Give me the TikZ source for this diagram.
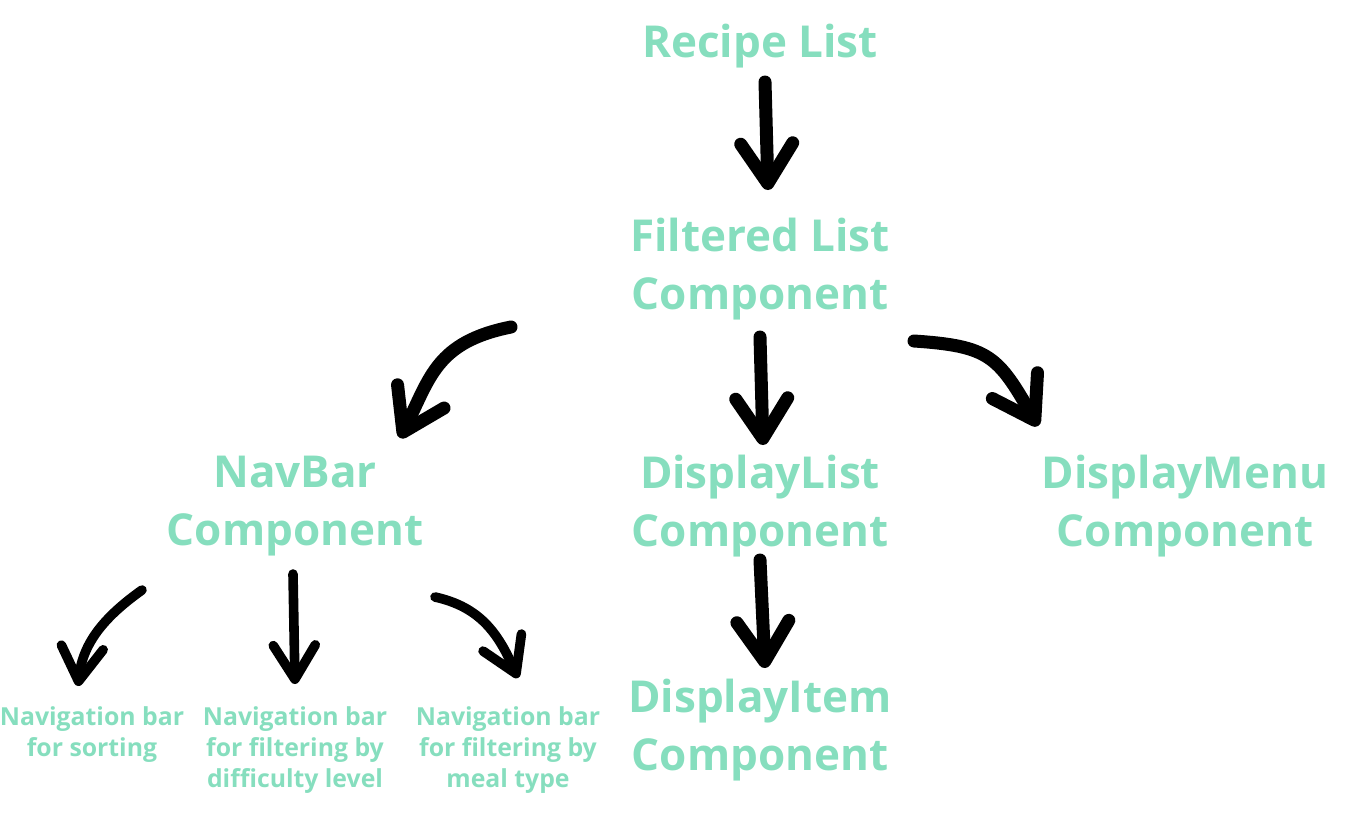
\documentclass[tikz,border=0pt]{standalone}
\usepackage{fontspec}
\setmainfont{Open Sans}
\usetikzlibrary{arrows.meta}
\definecolor{mint}{RGB}{134,222,190}

\begin{document}
\begin{tikzpicture}[x=0.5pt, y=-0.5pt,
  big/.style={text=mint, font=\bfseries\fontsize{22}{29}\selectfont, align=center, inner sep=0pt},
  small/.style={text=mint, font=\bfseries\fontsize{12.4}{15.5}\selectfont, align=center, inner sep=0pt},
  brush/.style={line width=6.5pt, line cap=round, -{Straight Barb[length=20pt, width=26pt, round]}},
  thinbrush/.style={brush, line width=4.8pt, -{Straight Barb[length=17pt, width=21pt, round]}}]
  \useasboundingbox (0,0) rectangle (1354,836);

  % components
  \node[big] (recipe) at (760,46) {Recipe List};
  \node[big] (filtered) at (760,269) {Filtered List\\Component};
  \node[big] (navbar) at (295,506) {NavBar\\Component};
  \node[big] (displist) at (760,506) {DisplayList\\Component};
  \node[big] (dispmenu) at (1185,506) {DisplayMenu\\Component};
  \node[big] (dispitem) at (760,730) {DisplayItem\\Component};

  % navigation bars
  \node[small] (sort) at (92,735) {Navigation bar\\for sorting};
  \node[small] (diff) at (295,750) {Navigation bar\\for filtering by\\difficulty level};
  \node[small] (meal) at (508,750) {Navigation bar\\for filtering by\\meal type};

  % arrows
  \draw[brush] ([shift={(5,36)}]recipe.center) -- ([shift={(8,-79)}]filtered.center);
  \draw[brush] ([shift={(-249,58)}]filtered.center) .. controls +(-75,15) and +(30,-60) .. ([shift={(105,-68)}]navbar.center);
  \draw[brush] ([shift={(0,68)}]filtered.center) -- ([shift={(3,-61)}]displist.center);
  \draw[brush] ([shift={(154,72)}]filtered.center) .. controls +(75,5) and +(-40,-70) .. ([shift={(-147,-80)}]dispmenu.center);
  \draw[brush] ([shift={(0,54)}]displist.center) -- ([shift={(5,-62)}]dispitem.center);

  \draw[thinbrush] ([shift={(-153,84)}]navbar.center) .. controls +(-35,25) and +(5,-45) .. ([shift={(-14,-49)}]sort.center);
  \draw[thinbrush] ([shift={(-2,68)}]navbar.center) -- ([shift={(0,-66)}]diff.center);
  \draw[thinbrush] ([shift={(140,91)}]navbar.center) .. controls +(45,10) and +(-20,-45) .. ([shift={(10,-72)}]meal.center);
\end{tikzpicture}
\end{document}
